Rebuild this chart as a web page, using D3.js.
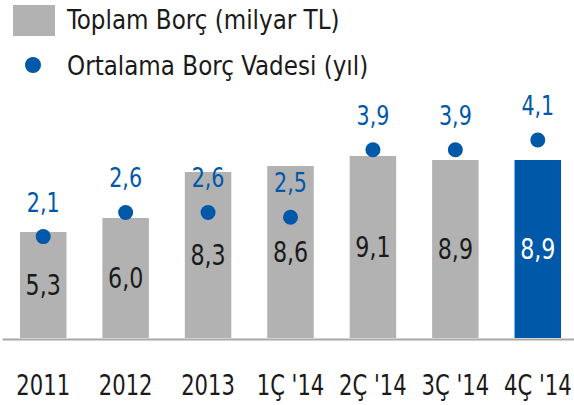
<!DOCTYPE html>
<html lang="tr">
<head>
<meta charset="utf-8">
<script src="https://d3js.org/d3.v7.min.js"></script>
<style>
  body { margin: 0; background: #fff; }
  svg text { font-family: "DejaVu Sans Condensed", "DejaVu Sans", sans-serif; }
</style>
</head>
<body>
<script>
var categories = ["2011", "2012", "2013", "1Ç '14", "2Ç '14", "3Ç '14", "4Ç '14"];
var debt = [5.3, 6.0, 8.3, 8.6, 9.1, 8.9, 8.9];        // Toplam Borç (milyar TL)
var maturity = [2.1, 2.6, 2.6, 2.5, 3.9, 3.9, 4.1];    // Ortalama Borç Vadesi (yıl)
var legendLabels = ["Toplam Borç (milyar TL)", "Ortalama Borç Vadesi (yıl)"];

var W = 574, H = 405, base = 338;
var grey = "#b2b2b2", blue = "#0058a9";
var fmt = function(v) { return d3.format(".1f")(v).replace(".", ","); };

// the original font is narrower than what we have -> scale text horizontally
function squeeze(sel, k) {
  sel.each(function() {
    var t = d3.select(this);
    var tx = +t.attr("x") || 0, ty = +t.attr("y") || 0;
    t.attr("x", 0).attr("y", 0)
      .attr("transform", "translate(" + tx + "," + ty + ") scale(" + k + ",1)");
  });
}

var svg = d3.select("body").append("svg").attr("width", W).attr("height", H);

var x = d3.scaleBand().domain(categories).range([2, 579])
  .paddingInner(0.436).paddingOuter(0.218);
var yBar = d3.scaleLinear().domain([0, 16.9]).range([base, 0]);
var yDot = d3.scaleLinear().domain([0, 7]).range([base, 0]);

// bars
svg.selectAll("rect.bar").data(debt).enter().append("rect")
  .attr("class", "bar")
  .attr("x", function(d, i) { return x(categories[i]); })
  .attr("y", function(d) { return yBar(d); })
  .attr("width", x.bandwidth())
  .attr("height", function(d) { return base - yBar(d); })
  .attr("fill", function(d, i) { return i == categories.length - 1 ? blue : grey; });

// bar values in middle of bar
var vals = svg.selectAll("text.val").data(debt).enter().append("text")
  .attr("class", "val")
  .attr("x", function(d, i) { return x(categories[i]) + x.bandwidth() / 2; })
  .attr("y", function(d) { return (yBar(d) + base) / 2 + 10; })
  .attr("text-anchor", "middle")
  .attr("font-size", 28)
  .attr("fill", function(d, i) { return i == categories.length - 1 ? "#fff" : "#1a1a1a"; })
  .text(fmt);
squeeze(vals, 0.88);

// axis
var ax = svg.append("g").attr("transform", "translate(0," + 339 + ")")
  .call(d3.axisBottom(x).tickSize(0).tickSizeOuter(0));
ax.select(".domain").attr("stroke", "#a8a8a8").attr("stroke-width", 2);
var ticks = ax.selectAll("text").attr("y", 56).attr("dy", 0)
  .attr("font-size", 28).attr("fill", "#1a1a1a")
  .style("font-family", "'DejaVu Sans Condensed', 'DejaVu Sans', sans-serif");
squeeze(ticks, 0.84);
// keep last label inside the page
ticks.each(function() {
  var r = this.getBoundingClientRect();
  var over = r.right - (W - 2);
  if (over > 0) d3.select(this).attr("x", -over / 0.84);
});

// dots
svg.selectAll("circle.dot").data(maturity).enter().append("circle")
  .attr("class", "dot")
  .attr("cx", function(d, i) { return x(categories[i]) + x.bandwidth() / 2; })
  .attr("cy", function(d) { return yDot(d); })
  .attr("r", 7.5)
  .attr("fill", blue);

var dl = svg.selectAll("text.dl").data(maturity).enter().append("text")
  .attr("class", "dl")
  .attr("x", function(d, i) { return x(categories[i]) + x.bandwidth() / 2; })
  .attr("y", function(d) { return yDot(d) - 25; })
  .attr("text-anchor", "middle")
  .attr("font-size", 27)
  .attr("fill", blue)
  .text(fmt);
squeeze(dl, 0.85);

// legend
svg.append("rect").attr("x", 13).attr("y", 5).attr("width", 42).attr("height", 31).attr("fill", grey);
svg.append("circle").attr("cx", 33).attr("cy", 65).attr("r", 8).attr("fill", blue);
var leg = svg.selectAll("text.leg").data(legendLabels).enter().append("text")
  .attr("class", "leg")
  .attr("x", 67)
  .attr("y", function(d, i) { return i == 0 ? 29 : 75; })
  .attr("font-size", 27)
  .attr("fill", "#1a1a1a")
  .text(function(d) { return d; });
squeeze(leg, 0.95);
</script>
</body>
</html>
